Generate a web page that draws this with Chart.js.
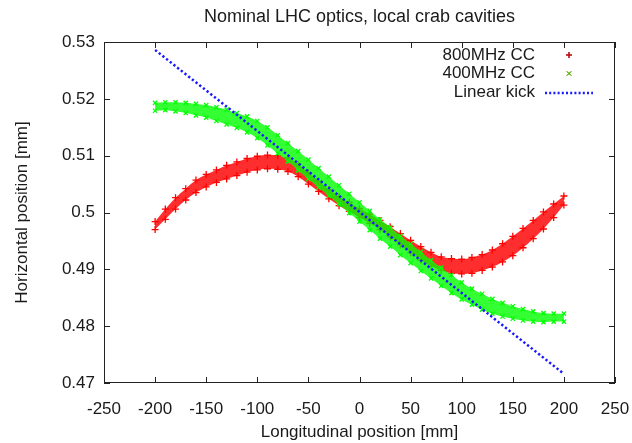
<!DOCTYPE html>
<html>
<head>
<meta charset="utf-8">
<title>Nominal LHC optics, local crab cavities</title>
<script src="https://cdn.jsdelivr.net/npm/chart.js@4.4.1/dist/chart.umd.min.js"></script>
<style>
  html, body { margin: 0; padding: 0; background: #fff; }
</style>
</head>
<body>
<canvas id="orbitCanvas" width="632" height="443"></canvas>
<script>
// longitudinal positions [mm]
const positions = [-200, -190, -180, -170, -160, -150, -140, -130, -120, -110, -100,
                   -90, -80, -70, -60, -50, -40, -30, -20, -10, 0,
                   10, 20, 30, 40, 50, 60, 70, 80, 90, 100,
                   110, 120, 130, 140, 150, 160, 170, 180, 190, 200];

// 800 MHz crab cavity: upper / lower edge of the tracked band [mm]
const cc800Upper = [0.4984, 0.5006, 0.5026, 0.5042, 0.5057, 0.5067, 0.5075, 0.5083, 0.5089, 0.5095, 0.5099,
                    0.5101, 0.5100, 0.5096, 0.5085, 0.5070, 0.5055, 0.5040, 0.5028, 0.5018, 0.5007,
                    0.4997, 0.4986, 0.4975, 0.4963, 0.4951, 0.4940, 0.4930, 0.4922, 0.4919, 0.4918,
                    0.4921, 0.4926, 0.4934, 0.4945, 0.4958, 0.4972, 0.4986, 0.5001, 0.5015, 0.5029];
const cc800Lower = [0.4970, 0.4988, 0.5006, 0.5022, 0.5035, 0.5045, 0.5053, 0.5059, 0.5065, 0.5071, 0.5075,
                    0.5077, 0.5076, 0.5072, 0.5063, 0.5050, 0.5037, 0.5024, 0.5012, 0.5002, 0.4991,
                    0.4981, 0.4970, 0.4957, 0.4943, 0.4929, 0.4916, 0.4906, 0.4898, 0.4893, 0.4892,
                    0.4893, 0.4898, 0.4904, 0.4913, 0.4924, 0.4938, 0.4954, 0.4971, 0.4991, 0.5013];

// 400 MHz crab cavity: upper / lower edge of the tracked band [mm]
const cc400Upper = [0.5193, 0.5194, 0.5194, 0.5193, 0.5191, 0.5189, 0.5185, 0.5181, 0.5175, 0.5169, 0.5161,
                    0.5150, 0.5136, 0.5122, 0.5108, 0.5093, 0.5078, 0.5063, 0.5048, 0.5033, 0.5018,
                    0.5003, 0.4988, 0.4974, 0.4959, 0.4945, 0.4931, 0.4916, 0.4903, 0.4890, 0.4877,
                    0.4866, 0.4857, 0.4848, 0.4841, 0.4835, 0.4830, 0.4826, 0.4823, 0.4822, 0.4822];
const cc400Lower = [0.5179, 0.5180, 0.5178, 0.5175, 0.5171, 0.5167, 0.5161, 0.5155, 0.5149, 0.5141, 0.5131,
                    0.5118, 0.5104, 0.5090, 0.5074, 0.5059, 0.5044, 0.5029, 0.5014, 0.4999, 0.4984,
                    0.4969, 0.4954, 0.4940, 0.4925, 0.4911, 0.4897, 0.4884, 0.4871, 0.4858, 0.4847,
                    0.4838, 0.4829, 0.4822, 0.4817, 0.4813, 0.4810, 0.4808, 0.4807, 0.4808, 0.4808];

// linear kick reference
const kickPositions = [-200, 200];
const kickValues = [0.5286, 0.4716];

const xTickLabels = [-250, -200, -150, -100, -50, 0, 50, 100, 150, 200, 250];

const FONT = '"Liberation Sans", Arial, Helvetica, sans-serif';
const TEXT = '#1a1a1a';

const toPoints = (xs, ys) => xs.map((x, i) => ({ x, y: ys[i] }));

// box with inward ticks on all four sides, like gnuplot
const frameTicks = {
  id: 'frameTicks',
  afterDraw(chart) {
    const { ctx, chartArea: a, scales: { x, y } } = chart;
    const len = 6;
    ctx.save();
    ctx.strokeStyle = '#222';
    ctx.lineWidth = 1;
    ctx.beginPath();
    x.ticks.forEach(t => {
      const px = Math.round(x.getPixelForValue(t.value)) + 0.5;
      ctx.moveTo(px, a.bottom); ctx.lineTo(px, a.bottom - len);
      ctx.moveTo(px, a.top); ctx.lineTo(px, a.top + len);
    });
    y.ticks.forEach(t => {
      const py = Math.round(y.getPixelForValue(t.value)) + 0.5;
      ctx.moveTo(a.left, py); ctx.lineTo(a.left + len, py);
      ctx.moveTo(a.right, py); ctx.lineTo(a.right - len, py);
    });
    ctx.stroke();
    ctx.strokeRect(Math.round(a.left) + 0.5, Math.round(a.top) + 0.5,
                   Math.round(a.width) - 1, Math.round(a.height) - 1);
    ctx.restore();
  }
};

// key in the top right corner: text right-aligned, sample to its right
const cornerKey = {
  id: 'cornerKey',
  afterDraw(chart) {
    const { ctx, chartArea: a } = chart;
    const entries = chart.data.datasets.filter(d => d.label);
    const textRight = a.right - 80;
    const sx0 = a.right - 70, sx1 = a.right - 22;
    ctx.save();
    ctx.font = '17px ' + FONT;
    ctx.fillStyle = TEXT;
    ctx.textAlign = 'right';
    ctx.textBaseline = 'middle';
    entries.forEach((d, i) => {
      const yy = a.top + 13 + i * 18.5;
      ctx.fillText(d.label, textRight, yy);
      if (d.borderDash) {
        ctx.save();
        ctx.strokeStyle = d.borderColor;
        ctx.lineWidth = 2.5;
        ctx.setLineDash([2, 2.2]);
        ctx.beginPath();
        ctx.moveTo(sx0, yy + 1);
        ctx.lineTo(sx1, yy + 1);
        ctx.stroke();
        ctx.restore();
      } else {
        Chart.helpers.drawPoint(ctx, {
          pointStyle: d.pointStyle, radius: 3, borderWidth: 1.2, rotation: 0
        }, (sx0 + sx1) / 2, yy);
        ctx.strokeStyle = d.pointBorderColor;
        ctx.stroke();
      }
    });
    ctx.restore();
  }
};

const bandStyle = (color, fillColor, style, radius, order) => ({
  showLine: false,
  borderWidth: 0,
  borderColor: color,
  backgroundColor: fillColor,
  pointStyle: style,
  pointRadius: radius,
  pointBorderWidth: 1.3,
  pointBorderColor: color,
  pointBackgroundColor: color,
  cubicInterpolationMode: 'monotone',
  order: order
});

new Chart(document.getElementById('orbitCanvas'), {
  type: 'line',
  data: {
    datasets: [
      Object.assign({ label: '800MHz CC', data: toPoints(positions, cc800Upper), fill: '+1' },
                    bandStyle('#ff0000', 'rgba(255,0,0,0.82)', 'cross', 3.5, 5)),
      Object.assign({ label: '', data: toPoints(positions, cc800Lower), fill: false },
                    bandStyle('#ff0000', 'rgba(255,0,0,0.82)', 'cross', 3.5, 4)),
      Object.assign({ label: '400MHz CC', data: toPoints(positions, cc400Upper), fill: '+1' },
                    bandStyle('#00ff00', 'rgba(0,255,0,0.8)', 'crossRot', 3, 3)),
      Object.assign({ label: '', data: toPoints(positions, cc400Lower), fill: false },
                    bandStyle('#00ff00', 'rgba(0,255,0,0.8)', 'crossRot', 3, 2)),
      {
        label: 'Linear kick',
        data: toPoints(kickPositions, kickValues),
        borderColor: '#1a1aff',
        borderWidth: 2.5,
        borderDash: [2.3, 2.4],
        pointRadius: 0,
        fill: false,
        order: 1
      }
    ]
  },
  options: {
    responsive: false,
    animation: false,
    layout: { padding: { left: 0, right: 17, top: 0, bottom: 0 } },
    plugins: {
      legend: { display: false },
      tooltip: { enabled: false },
      title: {
        display: true,
        fullSize: false,
        text: 'Nominal LHC optics, local crab cavities',
        color: TEXT,
        font: { family: FONT, size: 18, weight: 'normal' },
        padding: { top: 6, bottom: 14.4 }
      }
    },
    scales: {
      x: {
        type: 'linear',
        min: -250,
        max: 250,
        afterBuildTicks: s => { s.ticks = xTickLabels.map(v => ({ value: v })); },
        afterFit: s => { s.height = 60; s.paddingLeft = 0; s.paddingRight = 0; },
        grid: { display: false, drawTicks: false },
        border: { display: false },
        ticks: { color: TEXT, font: { family: FONT, size: 17 }, padding: 16, maxRotation: 0 },
        title: {
          display: true,
          text: 'Longitudinal position [mm]',
          color: TEXT,
          font: { family: FONT, size: 17 },
          padding: { top: 0, bottom: 0 }
        }
      },
      y: {
        min: 0.47,
        max: 0.53,
        afterFit: s => { s.width = 104; },
        grid: { display: false, drawTicks: false },
        border: { display: false },
        ticks: {
          stepSize: 0.01,
          color: TEXT,
          font: { family: FONT, size: 17 },
          padding: 9,
          callback: v => String(Number(v.toFixed(2)))
        },
        title: {
          display: true,
          text: 'Horizontal position [mm]',
          color: TEXT,
          font: { family: FONT, size: 17 },
          padding: { top: 12, bottom: 0 }
        }
      }
    }
  },
  plugins: [frameTicks, cornerKey]
});
</script>
</body>
</html>
